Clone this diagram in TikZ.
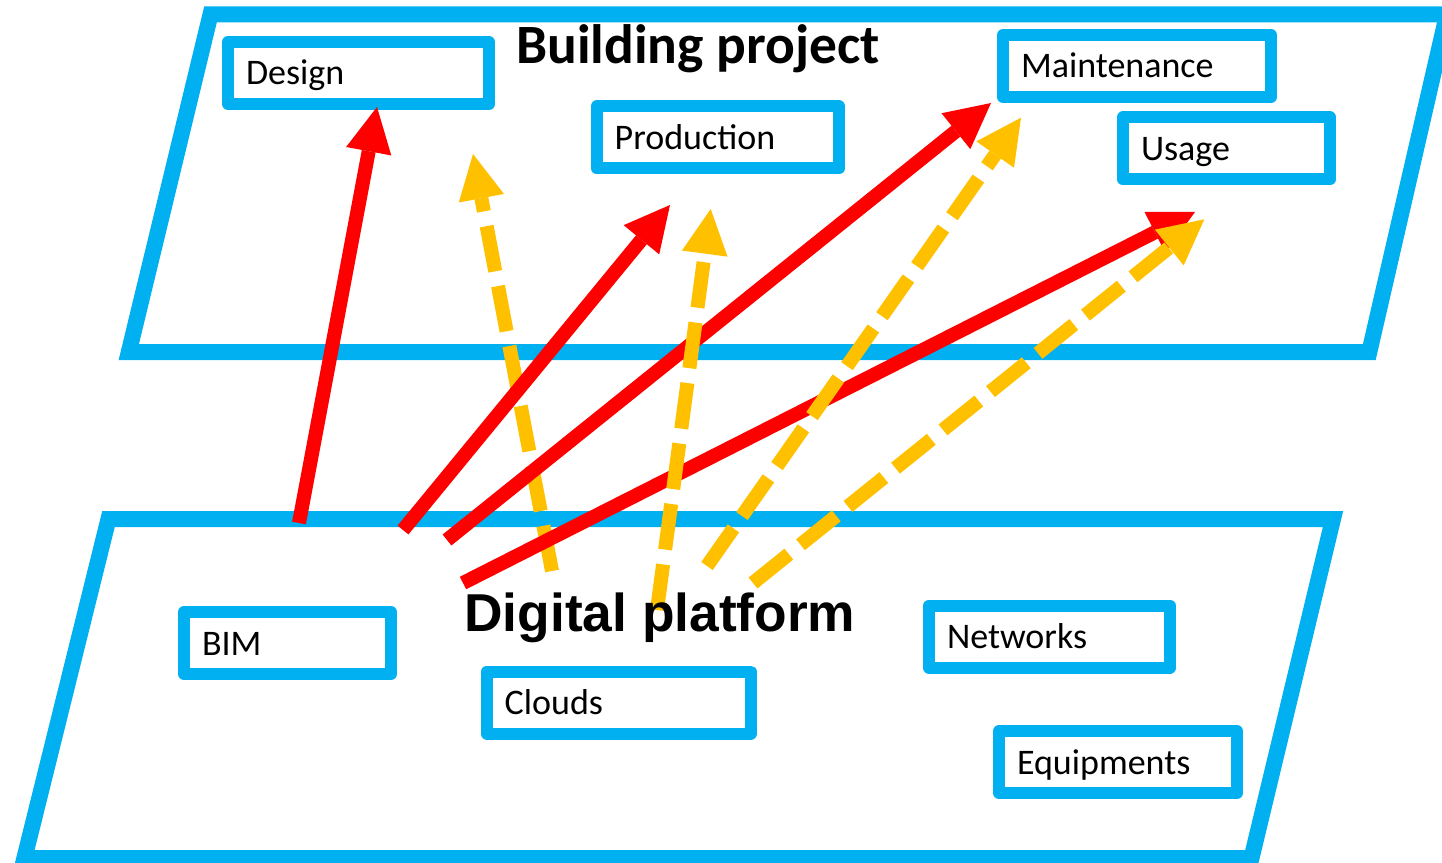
\documentclass[tikz,border=0pt]{standalone}
\usepackage{fontspec}
\setmainfont{Carlito}
\newfontfamily\platformfont{Liberation Sans}
\usetikzlibrary{arrows.meta}

\definecolor{pblue}{HTML}{00B0F0}
\definecolor{pred}{HTML}{FF0000}
\definecolor{pgold}{HTML}{FFC000}

\tikzset{
  plane/.style={draw=pblue, line width=12pt, line join=miter},
  box/.style={draw=pblue, line width=9pt, line join=round, anchor=west, outer sep=0pt,
    inner xsep=13.5pt, inner ysep=0pt, text height=32.25pt, text depth=14.25pt,
    align=left, text width=#1, font=\fontsize{27}{30}\selectfont},
  title/.style={anchor=base west, inner sep=0pt},
  head/.style={-{Triangle[length=33.75pt,width=34.5pt,line width=0pt]}},
  redarrow/.style={draw=pred, line width=10.5pt, head},
  goldarrow/.style={draw=pgold, line width=10.5pt, dash pattern=on 34.5pt off 11.25pt, head},
}

\begin{document}
\begin{tikzpicture}[x=0.75pt, y=-0.75pt]
\useasboundingbox (0,0) rectangle (1442,863);

% the two layers
\draw[plane] (210.5,14.5) -- (1447,14.5) -- (1369.3,352) -- (128.8,352) -- cycle;
\draw[plane] (108.5,519) -- (1333,519) -- (1251.5,858) -- (24.4,858) -- cycle;

% building project activities
\node[box=168.75pt] (design)      at (228,73)    {Design};
\node[box=154.7pt]  (production)  at (596.7,137.5) {Production};
\node[box=174pt]    (maintenance) at (1003,66)   {Maintenance};
\node[box=128.25pt] (usage)       at (1123,148.5) {Usage};

% digital platform components
\node[box=128.25pt] (bim)        at (184,643)   {BIM};
\node[box=171pt]    (clouds)     at (486.7,702.5) {Clouds};
\node[box=153.75pt] (networks)   at (929,636.5) {Networks};
\node[box=151.5pt]  (equipments) at (999,762)   {Equipments};

% arrow ends
\coordinate (r1s) at (299,523);  \coordinate (r1e) at (377,107);
\coordinate (r2s) at (403,530);  \coordinate (r2e) at (670,205);
\coordinate (r3s) at (447,540);  \coordinate (r3e) at (991,103);
\coordinate (r4s) at (463,583);  \coordinate (r4e) at (1195,212);
\coordinate (y1s) at (552,571);  \coordinate (y1e) at (473,154);
\coordinate (y2s) at (657,610);  \coordinate (y2e) at (710.7,209);
\coordinate (y3s) at (707,566);  \coordinate (y3e) at (1021,117.7);
\coordinate (y4s) at (753,583);  \coordinate (y4e) at (1204.3,219.3);

\draw[goldarrow] (y1s) -- (y1e);
\draw[redarrow] (r1s) -- (r1e);
\draw[redarrow] (r2s) -- (r2e);
\draw[redarrow] (r3s) -- (r3e);
\draw[redarrow] (r4s) -- (r4e);
\draw[goldarrow] (y2s) -- (y2e);
\draw[goldarrow] (y3s) -- (y3e);
\draw[goldarrow] (y4s) -- (y4e);

% layer titles
\node[title, font=\fontsize{41.6}{48}\selectfont\bfseries] (bptitle) at (516,64) {Building project};
\node[title, font=\platformfont\fontsize{40}{48}\selectfont\bfseries] (dptitle) at (464,631) {Digital platform};
\end{tikzpicture}
\end{document}
